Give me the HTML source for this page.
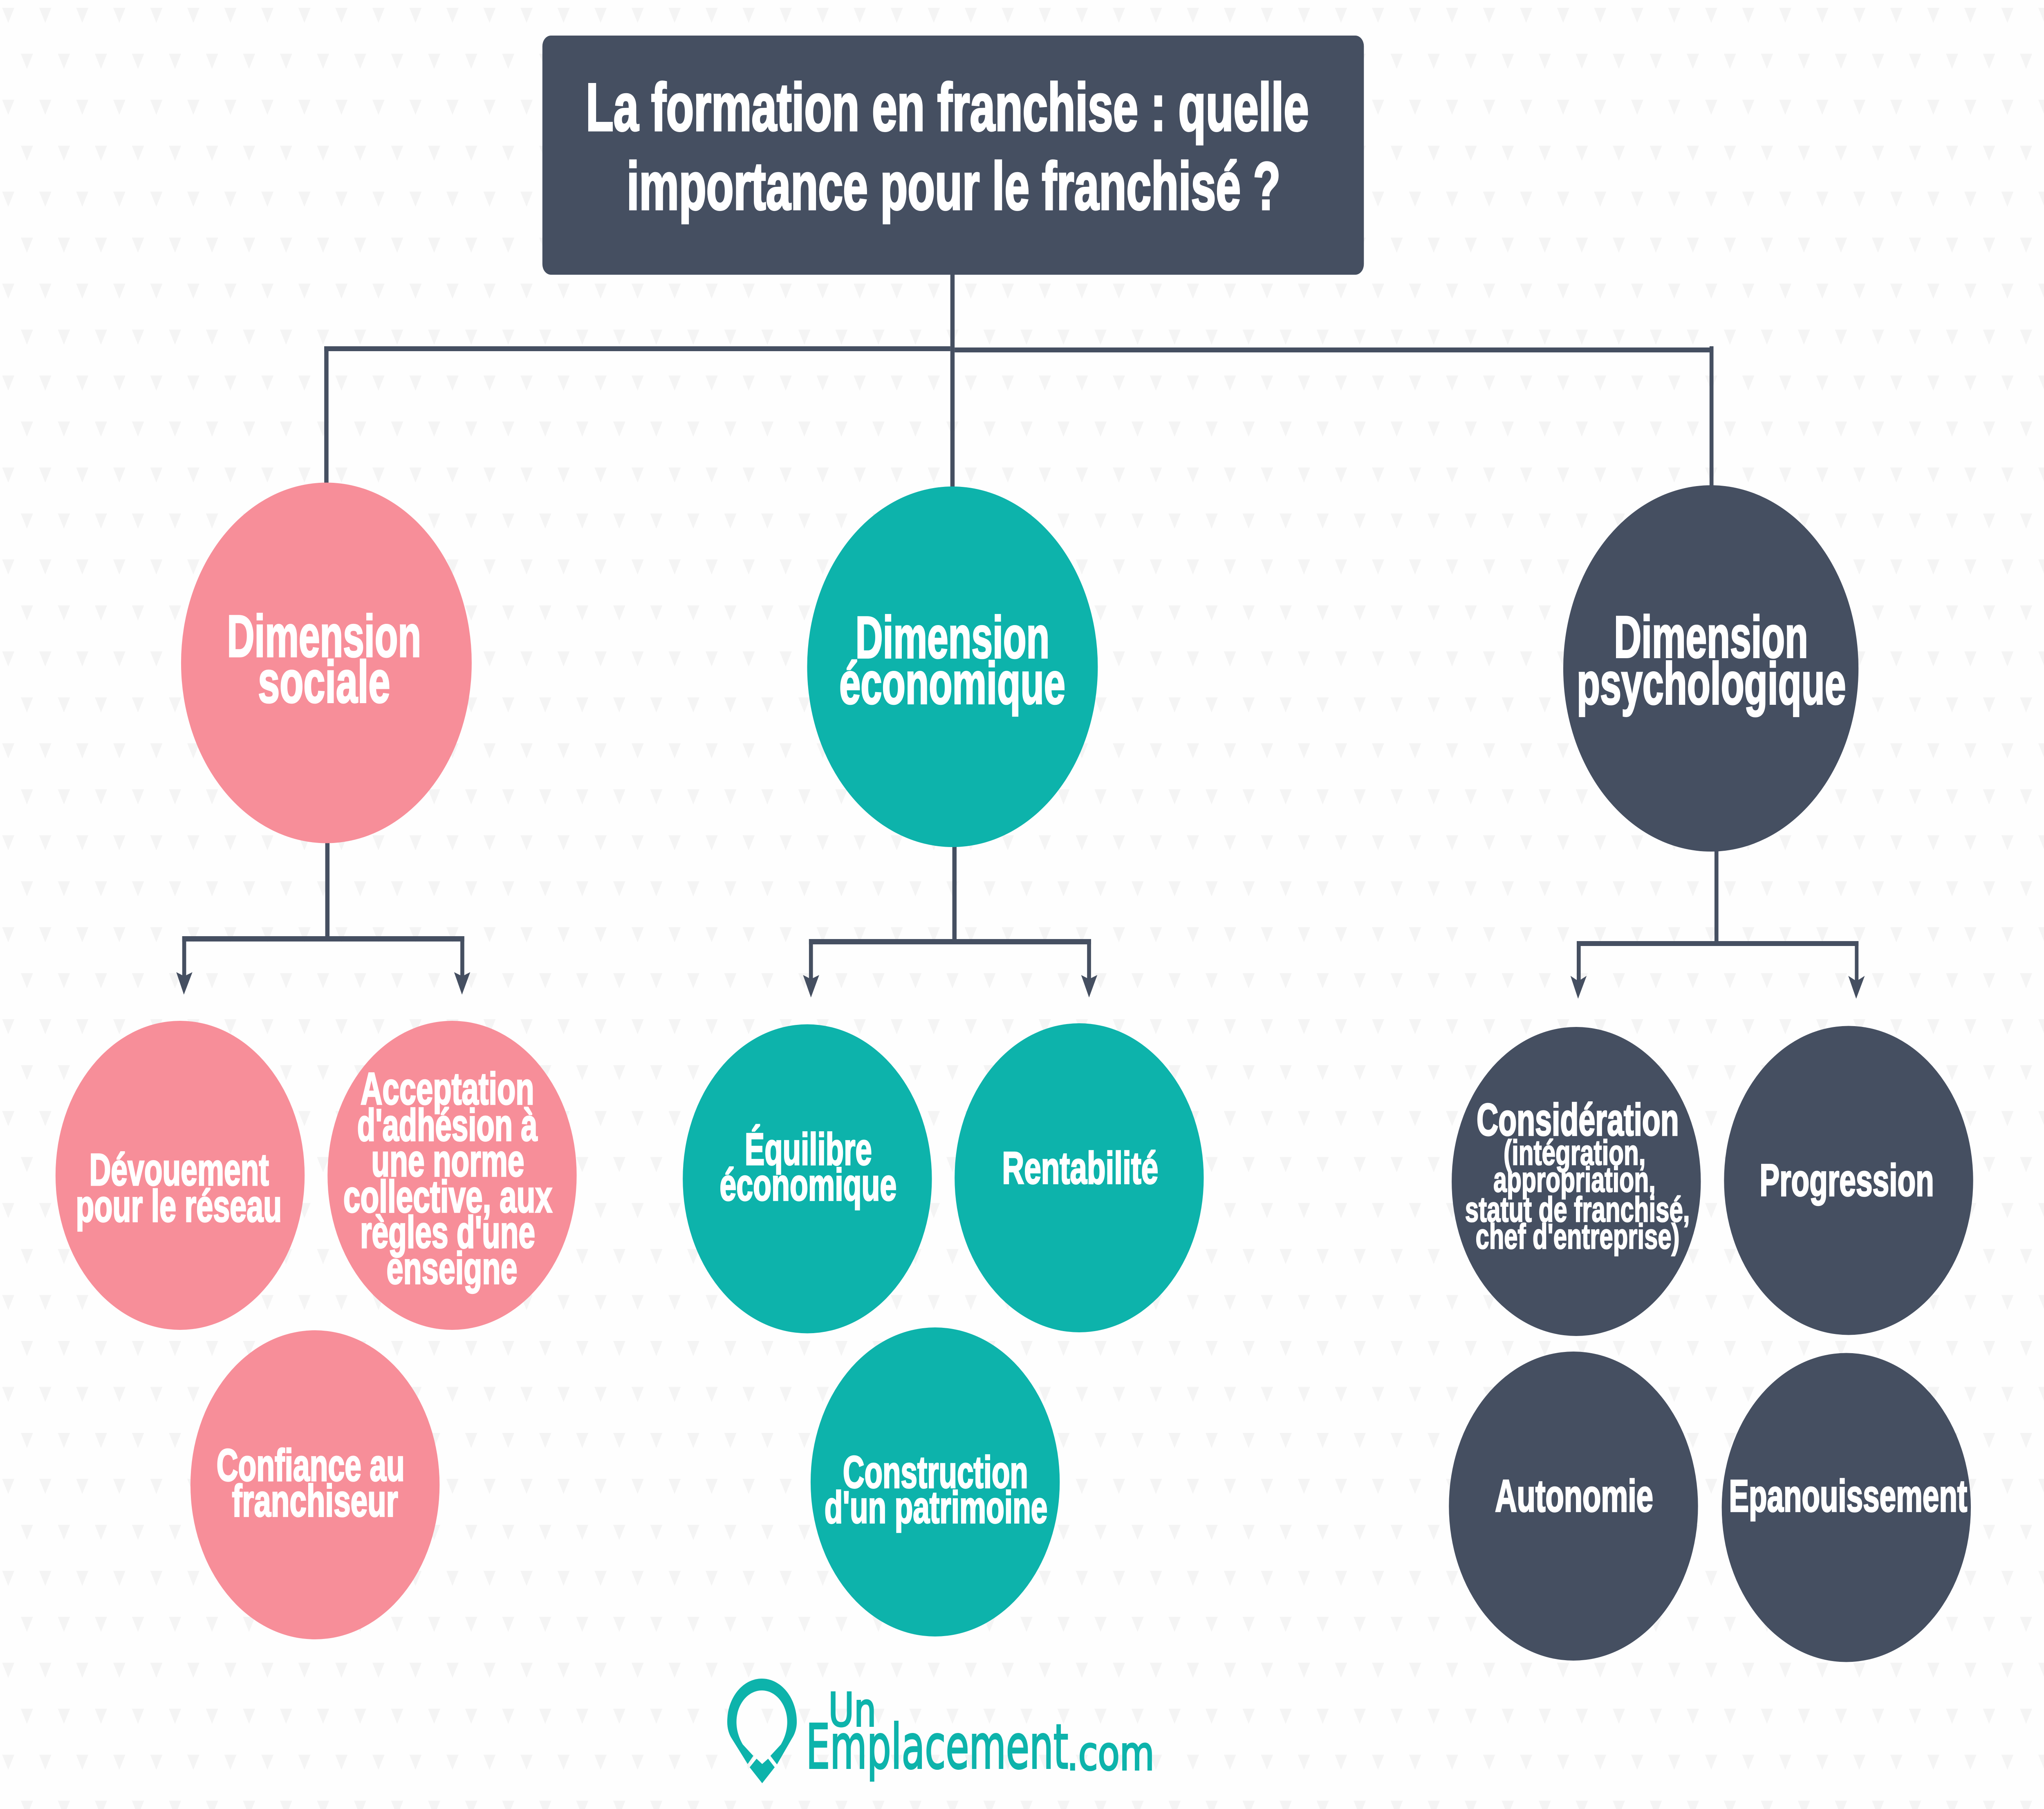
<!DOCTYPE html>
<html lang="fr">
<head>
<meta charset="utf-8">
<title>La formation en franchise</title>
<style>
html,body{margin:0;padding:0;width:100%;height:100%;overflow:hidden;background:#fefefe;}
svg{display:block;position:absolute;left:0;top:0;width:100vw;height:100vh;}
text{font-family:"Liberation Sans",Arial,sans-serif;font-weight:700;fill:#fff;stroke:#fff;}
.m{font-size:145px;stroke-width:4px;}
.s{font-size:110px;stroke-width:3.5px;}
.x{font-size:86px;stroke-width:2.5px;}
.t{font-size:165px;stroke-width:5px;}
.l{font-family:"DejaVu Sans","Liberation Sans",sans-serif;font-weight:400;fill:#0db3ab;stroke:#0db3ab;stroke-width:4px;}
</style>
</head>
<body>
<svg xmlns="http://www.w3.org/2000/svg" viewBox="0 0 6203 4425" preserveAspectRatio="none">
<defs>
<pattern id="bg" x="0" y="0" width="112.35" height="224.9" patternUnits="userSpaceOnUse">
<polygon points="6.5,19 43.5,19 25,56" fill="#f4f4f4"/>
<polygon points="63.2,131.5 100.2,131.5 81.7,168.5" fill="#f4f4f4"/>
</pattern>
</defs>
<rect width="6203" height="4425" fill="#fefefe"/>
<rect width="6203" height="4425" fill="url(#bg)"/>

<!-- connectors top -->
<g fill="#454f61">
<rect x="2884" y="660" width="13" height="540"/>
<rect x="984" y="847" width="1900" height="12"/>
<rect x="984" y="847" width="13" height="340"/>
<rect x="2897" y="850" width="2303" height="12"/>
<rect x="5188" y="847" width="12" height="345"/>

<!-- social -->
<rect x="987" y="2055" width="13" height="240"/>
<rect x="553" y="2290" width="856" height="13"/>
<rect x="553" y="2290" width="12" height="100"/>
<rect x="1397" y="2290" width="12" height="100"/>
<polygon points="558,2433 535,2378 559,2388 584,2378"/>
<polygon points="1402,2433 1378,2378 1403,2388 1427,2378"/>

<!-- economique -->
<rect x="2890" y="2065" width="13" height="235"/>
<rect x="2455" y="2297" width="856" height="13"/>
<rect x="2455" y="2297" width="12" height="100"/>
<rect x="3299" y="2297" width="12" height="100"/>
<polygon points="2461,2440 2437,2385 2461,2395 2486,2385"/>
<polygon points="3305,2440 3281,2385 3305,2395 3330,2385"/>

<!-- psycho -->
<rect x="5203" y="2075" width="12" height="230"/>
<rect x="4785" y="2302" width="855" height="12"/>
<rect x="4785" y="2302" width="12" height="100"/>
<rect x="5629" y="2302" width="11" height="100"/>
<polygon points="4789,2443 4766,2387 4790,2400 4815,2387"/>
<polygon points="5633,2443 5609,2387 5634,2400 5659,2387"/>
</g>

<!-- title -->
<rect x="1646" y="87" width="2493" height="585" rx="26" ry="26" fill="#454f61"/>
<text class="t" x="1778" y="319" textLength="2194" lengthAdjust="spacingAndGlyphs">La formation en franchise : quelle</text>
<text class="t" x="1902" y="512" textLength="1984" lengthAdjust="spacingAndGlyphs">importance pour le franchisé ?</text>

<!-- big circles -->
<circle cx="990.5" cy="1621.5" r="441" fill="#f78e99"/>
<circle cx="2890.5" cy="1631" r="441" fill="#0db3ab"/>
<circle cx="5192" cy="1635" r="448" fill="#454f61"/>

<text class="m" x="689" y="1606" textLength="589" lengthAdjust="spacingAndGlyphs">Dimension</text>
<text class="m" x="783" y="1718" textLength="401" lengthAdjust="spacingAndGlyphs">sociale</text>
<text class="m" x="2596" y="1609" textLength="589" lengthAdjust="spacingAndGlyphs">Dimension</text>
<text class="m" x="2547" y="1721" textLength="686" lengthAdjust="spacingAndGlyphs">économique</text>
<text class="m" x="4898" y="1608" textLength="589" lengthAdjust="spacingAndGlyphs">Dimension</text>
<text class="m" x="4785" y="1722" textLength="817" lengthAdjust="spacingAndGlyphs">psychologique</text>

<!-- small pink -->
<circle cx="546.5" cy="2875" r="378" fill="#f78e99"/>
<circle cx="1372" cy="2875" r="378" fill="#f78e99"/>
<circle cx="956" cy="3632" r="378" fill="#f78e99"/>
<text class="s" x="271" y="2899" textLength="545" lengthAdjust="spacingAndGlyphs">Dévouement</text>
<text class="s" x="230" y="2988" textLength="625" lengthAdjust="spacingAndGlyphs">pour le réseau</text>
<text class="s" x="1094" y="2701" textLength="527" lengthAdjust="spacingAndGlyphs">Acceptation</text>
<text class="s" x="1084" y="2790" textLength="547" lengthAdjust="spacingAndGlyphs">d'adhésion à</text>
<text class="s" x="1127" y="2877" textLength="464" lengthAdjust="spacingAndGlyphs">une norme</text>
<text class="s" x="1042" y="2965" textLength="634" lengthAdjust="spacingAndGlyphs">collective, aux</text>
<text class="s" x="1093" y="3052" textLength="531" lengthAdjust="spacingAndGlyphs">règles d'une</text>
<text class="s" x="1173" y="3140" textLength="397" lengthAdjust="spacingAndGlyphs">enseigne</text>
<text class="s" x="657" y="3622" textLength="571" lengthAdjust="spacingAndGlyphs">Confiance au</text>
<text class="s" x="704" y="3709" textLength="504" lengthAdjust="spacingAndGlyphs">franchiseur</text>

<!-- small teal -->
<circle cx="2450" cy="2883.5" r="378" fill="#0db3ab"/>
<circle cx="3275" cy="2881" r="378" fill="#0db3ab"/>
<circle cx="2838" cy="3625" r="378" fill="#0db3ab"/>
<text class="s" x="2260" y="2849" textLength="386" lengthAdjust="spacingAndGlyphs">Équilibre</text>
<text class="s" x="2184" y="2936" textLength="537" lengthAdjust="spacingAndGlyphs">économique</text>
<text class="s" x="3041" y="2895" textLength="474" lengthAdjust="spacingAndGlyphs">Rentabilité</text>
<text class="s" x="2558" y="3639" textLength="562" lengthAdjust="spacingAndGlyphs">Construction</text>
<text class="s" x="2502" y="3725" textLength="677" lengthAdjust="spacingAndGlyphs">d'un patrimoine</text>

<!-- small dark -->
<circle cx="4783.5" cy="2890" r="378" fill="#454f61"/>
<circle cx="5610" cy="2887.5" r="378" fill="#454f61"/>
<circle cx="4775" cy="3684" r="378" fill="#454f61"/>
<circle cx="5603" cy="3687.5" r="378" fill="#454f61"/>
<text class="s" x="4481" y="2777" textLength="614" lengthAdjust="spacingAndGlyphs">Considération</text>
<text class="x" x="4563" y="2849" textLength="431" lengthAdjust="spacingAndGlyphs">(intégration,</text>
<text class="x" x="4532" y="2915" textLength="492" lengthAdjust="spacingAndGlyphs">appropriation,</text>
<text class="x" x="4446" y="2988" textLength="682" lengthAdjust="spacingAndGlyphs">statut de franchisé,</text>
<text class="x" x="4478" y="3054" textLength="619" lengthAdjust="spacingAndGlyphs">chef d'entreprise)</text>
<text class="s" x="5340" y="2925" textLength="529" lengthAdjust="spacingAndGlyphs">Progression</text>
<text class="s" x="4537" y="3697" textLength="480" lengthAdjust="spacingAndGlyphs">Autonomie</text>
<text class="s" x="5247" y="3697" textLength="723" lengthAdjust="spacingAndGlyphs">Epanouissement</text>

<!-- logo -->
<path fill="#0db3ab" d="M2269 4315 L2221 4253 C2212 4242 2207 4228 2207 4212 C2207 4153 2254 4106 2312 4106 C2370 4106 2418 4153 2418 4212 C2418 4228 2412 4242 2403 4253 L2358 4316 L2338 4295 L2370 4267 C2382 4250 2389 4232 2389 4212 C2389 4170 2355 4135 2312 4135 C2269 4135 2235 4170 2235 4212 C2235 4232 2242 4250 2254 4267 L2286 4295 Z"/>
<polygon fill="#0db3ab" points="2296,4302 2313,4315 2331,4302 2351,4323 2313,4362 2275,4323"/>
<text class="l" x="2514" y="4222" font-size="113" textLength="145" lengthAdjust="spacingAndGlyphs">Un</text>
<text class="l" x="2446" y="4325" font-size="150" textLength="796" lengthAdjust="spacingAndGlyphs">Emplacement</text>
<text class="l" x="3238" y="4329" font-size="115" textLength="265" lengthAdjust="spacingAndGlyphs">.com</text>
</svg>
</body>
</html>
